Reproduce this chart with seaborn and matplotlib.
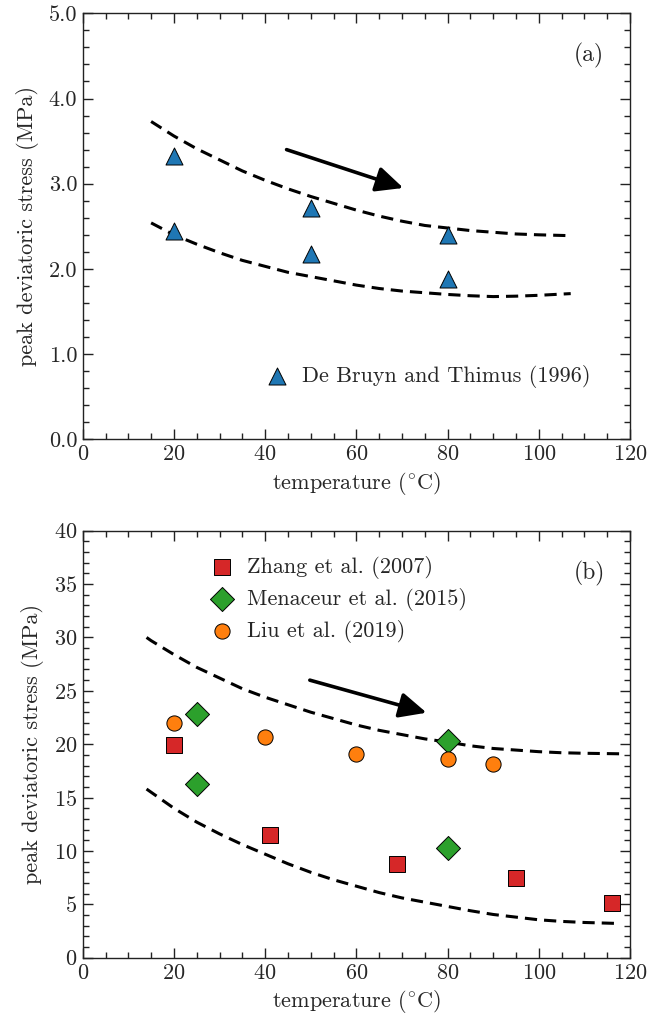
"""
Peak deviatoric stress vs temperature, two panels (a) and (b).
"""

import matplotlib
matplotlib.use("Agg")
import matplotlib.pyplot as plt
from matplotlib.ticker import MultipleLocator, FormatStrFormatter
import seaborn as sns

sns.set_theme(style="ticks")
plt.rcParams.update({
    "font.family": ["cmr10", "DejaVu Serif"],
    "mathtext.fontset": "cm",
    "axes.formatter.use_mathtext": True,
    "font.size": 16,
    "axes.labelsize": 16,
    "xtick.labelsize": 16,
    "ytick.labelsize": 16,
    "legend.fontsize": 16,
    "axes.linewidth": 1.0,
    "axes.edgecolor": "#222222",
})

C_BLUE = "#1f77b4"
C_RED = "#d62728"
C_GREEN = "#2ca02c"
C_ORANGE = "#ff7f0e"

# ---- panel (a) data
a_temp = [20, 20, 50, 50, 80, 80]
a_stress = [3.32, 2.45, 2.72, 2.18, 2.40, 1.88]

a_curve_x = [15, 20, 25, 30, 35, 40, 45, 50, 55, 60, 65, 70, 75, 80, 85, 90, 95, 100, 107]
a_upper_y = [3.73, 3.56, 3.41, 3.28, 3.15, 3.04, 2.94, 2.85, 2.77, 2.69, 2.62, 2.56,
             2.51, 2.48, 2.45, 2.43, 2.41, 2.40, 2.39]
a_lower_y = [2.54, 2.40, 2.29, 2.19, 2.10, 2.03, 1.96, 1.91, 1.86, 1.81, 1.77, 1.74,
             1.72, 1.70, 1.685, 1.675, 1.68, 1.69, 1.71]

# ---- panel (b) data
zhang_temp = [20, 41, 69, 95, 116]
zhang_stress = [19.9, 11.5, 8.8, 7.5, 5.1]
menaceur_temp = [25, 25, 80, 80]
menaceur_stress = [22.8, 16.3, 20.3, 10.3]
liu_temp = [20, 40, 60, 80, 90]
liu_stress = [22.0, 20.7, 19.1, 18.6, 18.1]

b_curve_x = [14, 15, 20, 25, 30, 35, 40, 45, 50, 55, 60, 65, 70, 75, 80, 85, 90, 95,
             100, 105, 110, 118]
b_upper_y = [30.0, 29.7, 28.4, 27.2, 26.2, 25.2, 24.4, 23.7, 23.0, 22.4, 21.8, 21.3,
             20.9, 20.5, 20.2, 19.85, 19.6, 19.45, 19.3, 19.2, 19.15, 19.1]
b_lower_y = [15.8, 15.5, 14.0, 12.7, 11.6, 10.6, 9.7, 8.8, 8.0, 7.3, 6.7, 6.1,
             5.6, 5.2, 4.8, 4.4, 4.05, 3.8, 3.55, 3.4, 3.3, 3.2]

W, H = 649, 1025
fig = plt.figure(figsize=(W / 100, H / 100), dpi=100)
ax_a = fig.add_axes([82.7 / W, 1 - 439.3 / H, 547.3 / W, 426.0 / H])
ax_b = fig.add_axes([82.7 / W, 1 - 957.7 / H, 547.3 / W, 427.0 / H])


def style_axes(ax, ymax, ymajor, yminor):
    ax.set_xlim(0, 120)
    ax.set_ylim(0, ymax)
    ax.xaxis.set_major_locator(MultipleLocator(20))
    ax.xaxis.set_minor_locator(MultipleLocator(5))
    ax.yaxis.set_major_locator(MultipleLocator(ymajor))
    ax.yaxis.set_minor_locator(MultipleLocator(yminor))
    ax.tick_params(which="both", direction="in", top=True, right=True,
                   width=1.0, color="#222222")
    ax.tick_params(which="major", length=7, pad=4)
    ax.tick_params(which="minor", length=4)
    ax.set_xlabel(r"temperature ($^{\circ}$C)", labelpad=4)
    ax.set_ylabel("peak deviatoric stress (MPa)", labelpad=7)
    for sp in ax.spines.values():
        sp.set_visible(True)


def dashed(ax, xs, ys):
    sns.lineplot(x=xs, y=ys, ax=ax, color="black", linewidth=2.2,
                 linestyle=(0, (4, 2.3)), legend=False)


def trend_arrow(ax, start, end):
    ax.annotate("", xy=end, xytext=start,
                arrowprops=dict(arrowstyle="-|>,head_length=0.75,head_width=0.35",
                                color="black", lw=2.6, mutation_scale=22,
                                shrinkA=0, shrinkB=0))


# ---- (a)
dashed(ax_a, a_curve_x, a_upper_y)
dashed(ax_a, a_curve_x, a_lower_y)
sns.scatterplot(x=a_temp, y=a_stress, ax=ax_a, marker="^", s=150,
                color=C_BLUE, edgecolor="black", linewidth=0.7,
                label="De Bruyn and Thimus (1996)", zorder=3)
trend_arrow(ax_a, (44.7, 3.40), (70.3, 2.95))
ax_a.text(0.925, 0.9, "(a)", transform=ax_a.transAxes, ha="center", va="center",
          fontsize=17)
style_axes(ax_a, 5.0, 1.0, 0.2)
ax_a.yaxis.set_major_formatter(FormatStrFormatter("%.1f"))
ax_a.legend(loc="center left", bbox_to_anchor=(0.335, 0.147), frameon=False,
            handlelength=1.0, handletextpad=0.6, borderaxespad=0, borderpad=0)

# ---- (b)
dashed(ax_b, b_curve_x, b_upper_y)
dashed(ax_b, b_curve_x, b_lower_y)
sns.scatterplot(x=zhang_temp, y=zhang_stress, ax=ax_b, marker="s", s=140,
                color=C_RED, edgecolor="black", linewidth=0.7,
                label="Zhang et al. (2007)", zorder=3)
sns.scatterplot(x=menaceur_temp, y=menaceur_stress, ax=ax_b, marker="D", s=150,
                color=C_GREEN, edgecolor="black", linewidth=0.7,
                label="Menaceur et al. (2015)", zorder=3)
sns.scatterplot(x=liu_temp, y=liu_stress, ax=ax_b, marker="o", s=120,
                color=C_ORANGE, edgecolor="black", linewidth=0.7,
                label="Liu et al. (2019)", zorder=3)
trend_arrow(ax_b, (49.8, 26.0), (75.4, 22.95))
ax_b.text(0.925, 0.9, "(b)", transform=ax_b.transAxes, ha="center", va="center",
          fontsize=17)
style_axes(ax_b, 40, 5, 1)
ax_b.legend(loc="upper left", bbox_to_anchor=(0.235, 0.941), frameon=False,
            handlelength=1.0, handletextpad=0.6, labelspacing=0.4,
            borderaxespad=0, borderpad=0)

fig.savefig("out.png", dpi=100)
